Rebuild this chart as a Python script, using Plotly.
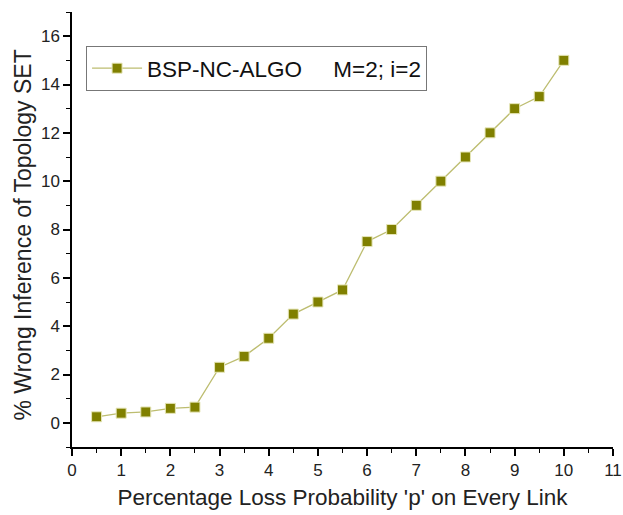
import plotly.graph_objects as go

p_values = [0.5, 1, 1.5, 2, 2.5, 3, 3.5, 4, 4.5, 5, 5.5, 6, 6.5, 7, 7.5, 8, 8.5, 9, 9.5, 10]
wrong_inference = [0.25, 0.4, 0.45, 0.6, 0.65, 2.3, 2.75, 3.5, 4.5, 5.0, 5.5, 7.5, 8.0, 9.0, 10.0, 11.0, 12.0, 13.0, 13.5, 15.0]
series_name = "BSP-NC-ALGO\u00a0\u00a0\u00a0\u00a0\u00a0M=2; i=2"
x_title = "Percentage Loss Probability 'p' on Every Link"
y_title = "% Wrong Inference of Topology SET"
x_ticks = list(range(0, 12))
y_ticks = list(range(0, 17, 2))

fig = go.Figure()
fig.add_trace(go.Scatter(
    x=p_values, y=wrong_inference, mode="lines+markers", name=series_name,
    line=dict(color="#bdbd70", width=1.3),
    marker=dict(symbol="square", size=10, color="#808000",
                line=dict(color="#e6e6b8", width=1)),
))

font = "Arial, Liberation Sans, sans-serif"
fig.update_layout(
    width=623, height=515,
    margin=dict(l=72, r=10, t=12, b=68),
    paper_bgcolor="white", plot_bgcolor="white",
    font=dict(family=font, color="#222222"),
    showlegend=True,
    legend=dict(x=0.026, y=0.870, xanchor="left", yanchor="middle",
                bordercolor="#777777", borderwidth=1, bgcolor="white",
                itemwidth=50,
                font=dict(size=22.5, family=font, color="#111111")),
    xaxis=dict(range=[0, 11], tickvals=x_ticks, showgrid=False, zeroline=False,
               automargin=False,
               showline=True, linecolor="black", linewidth=1.5,
               ticks="outside", ticklen=7, tickwidth=1.5, tickcolor="black",
               minor=dict(dtick=0.5, ticks="outside", ticklen=4, tickwidth=1.3, tickcolor="black"),
               tickfont=dict(size=17, family=font, color="#222222"),
               title=dict(text=x_title,
                          font=dict(size=22.5, family=font, color="#222222"), standoff=10)),
    yaxis=dict(range=[-1, 17], tickvals=y_ticks, showgrid=False, zeroline=False,
               automargin=False,
               showline=True, linecolor="black", linewidth=1.5,
               ticks="outside", ticklen=7, tickwidth=1.5, tickcolor="black",
               minor=dict(dtick=1, ticks="outside", ticklen=4, tickwidth=1.3, tickcolor="black"),
               tickfont=dict(size=17, family=font, color="#222222")),
    annotations=[dict(text=y_title, xref="paper", yref="paper", x=0, y=0.5,
                      xanchor="center", yanchor="middle", xshift=-50, yshift=-6,
                      textangle=-90, showarrow=False,
                      font=dict(size=23, family=font, color="#222222"))],
)
fig.write_html("out.html", config={"displayModeBar": False},
               post_script="document.body.style.margin='0';document.body.style.overflow='hidden';")
